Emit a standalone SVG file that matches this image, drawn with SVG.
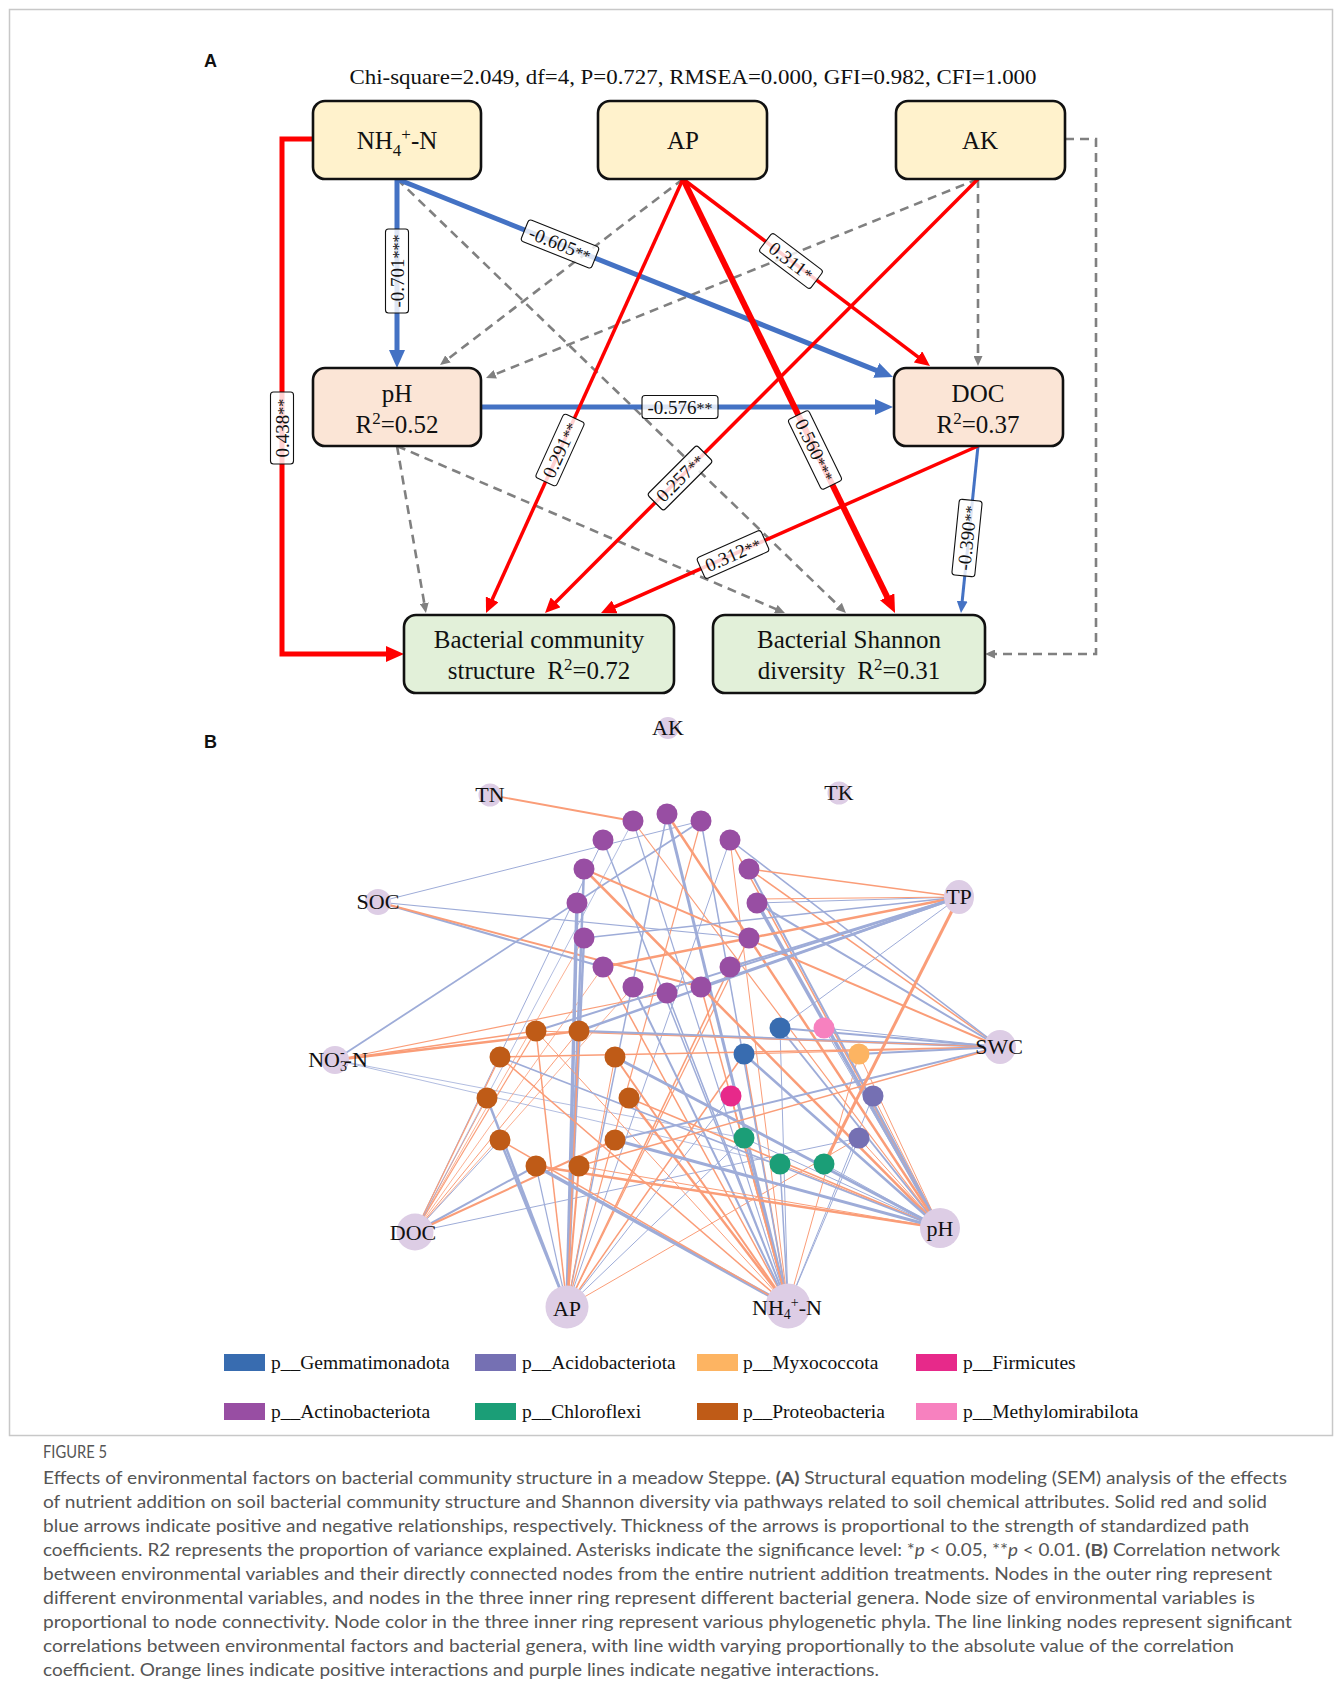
<svg xmlns="http://www.w3.org/2000/svg" width="1338" height="1699" viewBox="0 0 1338 1699">
<style>
.bx{stroke:#111;stroke-width:2.6}
.t1{fill:#FFF2CC}.t2{fill:#FBE5D6}.t3{fill:#E2F0D9}
.bt{font-family:"Liberation Serif","Times New Roman",serif;font-size:25px;fill:#111;text-anchor:middle}
.gd{stroke:#808080;stroke-width:2.6;stroke-dasharray:9,6;fill:none}
.rd{stroke:#FF0000;fill:none}
.bl{stroke:#4472C4;fill:none}
.lb rect{fill:#fff;fill-opacity:0.82;stroke:#111;stroke-width:1.1}
.lb text{font-family:"Liberation Serif","Times New Roman",serif;font-size:19px;fill:#111;text-anchor:middle}
.lb tspan{font-size:16px}
.eo{stroke:#FA9D78;fill:none}
.eb{stroke:#9EACD8;fill:none}
.env{fill:#DDCDE5}
.nl{font-family:"Liberation Serif","Times New Roman",serif;font-size:22px;fill:#111;text-anchor:middle}
.lg{font-family:"Liberation Serif","Times New Roman",serif;font-size:19.5px;fill:#111}
.cap{font-family:Lato,"Liberation Sans",sans-serif;font-size:17px;fill:#555}
.pl{font-family:"Liberation Sans",Arial,sans-serif;font-size:18px;font-weight:bold;fill:#111}
</style>
<defs>
<marker id="mB" markerUnits="userSpaceOnUse" markerWidth="18" markerHeight="16" refX="2" refY="8" orient="auto"><path d="M0,0 L18,8 L0,16 z" fill="#4472C4"/></marker>
<marker id="mR" markerUnits="userSpaceOnUse" markerWidth="18" markerHeight="16" refX="2" refY="8" orient="auto"><path d="M0,0 L18,8 L0,16 z" fill="#FF0000"/></marker>
<marker id="mRs" markerUnits="userSpaceOnUse" markerWidth="15" markerHeight="14" refX="2" refY="7" orient="auto"><path d="M0,0 L15,7 L0,14 z" fill="#FF0000"/></marker>
<marker id="mBs" markerUnits="userSpaceOnUse" markerWidth="12" markerHeight="11" refX="2" refY="5.5" orient="auto"><path d="M0,0 L12,5.5 L0,11 z" fill="#4472C4"/></marker>
<marker id="mG" markerUnits="userSpaceOnUse" markerWidth="10" markerHeight="9" refX="2" refY="4.5" orient="auto"><path d="M0,0 L10,4.5 L0,9 z" fill="#808080"/></marker>
</defs>
<rect width="1338" height="1699" fill="#fff"/>
<rect x="9.5" y="9.5" width="1323" height="1426" fill="none" stroke="#c8c8c8" stroke-width="1.5"/>

<!-- Panel A -->
<text class="pl" x="204" y="67">A</text>
<text x="693" y="84" font-family="Liberation Serif,Times New Roman,serif" font-size="21.5" fill="#111" text-anchor="middle" textLength="687" lengthAdjust="spacingAndGlyphs">Chi-square=2.049, df=4, P=0.727, RMSEA=0.000, GFI=0.982, CFI=1.000</text>

<g id="connectors">
<g id="sem-connectors">
<path class="gd" d="M397,179 L840.2,607.4" marker-end="url(#mG)"/>
<path class="gd" d="M683,179 L446.4,360.1" marker-end="url(#mG)"/>
<path class="gd" d="M978,179 L493.4,375" marker-end="url(#mG)"/>
<path class="gd" d="M978,179 L978,358" marker-end="url(#mG)"/>
<path class="gd" d="M1065,139 H1096 V654 H993" marker-end="url(#mG)"/>
<path class="gd" d="M397,446 L424.6,605.1" marker-end="url(#mG)"/>
<path class="gd" d="M397,446 L777.6,609.8" marker-end="url(#mG)"/>

<path class="bl" stroke-width="5" d="M397,179 L397,352" marker-end="url(#mB)"/>
<path class="bl" stroke-width="5" d="M397,179 L878.1,371.1" marker-end="url(#mB)"/>
<path class="bl" stroke-width="5" d="M481,407 L877,407" marker-end="url(#mB)"/>
<path class="bl" stroke-width="3" d="M978,446 L962,603" marker-end="url(#mBs)"/>
<path class="rd" stroke-width="5" d="M313,139 H282 V654 H388" marker-end="url(#mR)"/>
<path class="rd" stroke-width="3.5" d="M683,179 L919.6,358.1" marker-end="url(#mRs)"/>
<path class="rd" stroke-width="3.5" d="M683,179 L491.4,601.2" marker-end="url(#mRs)"/>
<path class="rd" stroke-width="6" d="M683,179 L888,598.6" marker-end="url(#mR)"/>
<path class="rd" stroke-width="3.5" d="M978,179 L554.2,603.8" marker-end="url(#mRs)"/>
<path class="rd" stroke-width="3.5" d="M978,446 L612.9,607.7" marker-end="url(#mRs)"/>

<g class="lb" transform="translate(397,271) rotate(-90)"><rect x="-42" y="-11.5" width="84" height="23" rx="3"/><text y="6.5">-0.701<tspan>***</tspan></text></g>
<g class="lb" transform="translate(560,244) rotate(21.8)"><rect x="-38" y="-11.5" width="76" height="23" rx="3"/><text y="6.5">-0.605<tspan>**</tspan></text></g>
<g class="lb" transform="translate(282,428) rotate(-90)"><rect x="-36" y="-11.5" width="72" height="23" rx="3"/><text y="6.5">0.438<tspan>**</tspan></text></g>
<g class="lb" transform="translate(791,261) rotate(37.1)"><rect x="-32" y="-11.5" width="64" height="23" rx="3"/><text y="6.5">0.311<tspan>*</tspan></text></g>
<g class="lb" transform="translate(680,407)"><rect x="-38" y="-11.5" width="76" height="23" rx="3"/><text y="6.5">-0.576<tspan>**</tspan></text></g>
<g class="lb" transform="translate(560,450) rotate(-65.6)"><rect x="-35" y="-11.5" width="70" height="23" rx="3"/><text y="6.5">0.291<tspan>**</tspan></text></g>
<g class="lb" transform="translate(815,450) rotate(64)"><rect x="-39" y="-11.5" width="78" height="23" rx="3"/><text y="6.5">0.560<tspan>***</tspan></text></g>
<g class="lb" transform="translate(680,478) rotate(-45)"><rect x="-35" y="-11.5" width="70" height="23" rx="3"/><text y="6.5">0.257<tspan>**</tspan></text></g>
<g class="lb" transform="translate(733,554.5) rotate(-23.9)"><rect x="-35" y="-11.5" width="70" height="23" rx="3"/><text y="6.5">0.312<tspan>**</tspan></text></g>
<g class="lb" transform="translate(967,538) rotate(-84.2)"><rect x="-38" y="-11.5" width="76" height="23" rx="3"/><text y="6.5">-0.390<tspan>**</tspan></text></g>
</g>

<g id="network-edges">
<line class="eo" x1="490" y1="795" x2="633" y2="821" stroke-width="1.8"/>
<line class="eb" x1="378" y1="902" x2="701" y2="821" stroke-width="1"/>
<line class="eb" x1="378" y1="902" x2="749" y2="938" stroke-width="1.2"/>
<line class="eb" x1="378" y1="902" x2="603" y2="967" stroke-width="2"/>
<line class="eo" x1="378" y1="902" x2="701" y2="987" stroke-width="2"/>
<line class="eb" x1="335" y1="1060" x2="701" y2="821" stroke-width="1.8"/>
<line class="eo" x1="335" y1="1060" x2="579" y2="1031" stroke-width="2.5"/>
<line class="eo" x1="335" y1="1060" x2="667" y2="993" stroke-width="1.2"/>
<line class="eb" x1="335" y1="1060" x2="744" y2="1138" stroke-width="0.8"/>
<line class="eb" x1="335" y1="1060" x2="780" y2="1164" stroke-width="0.8"/>
<line class="eo" x1="335" y1="1060" x2="536" y2="1031" stroke-width="1.5"/>
<line class="eb" x1="415" y1="1232" x2="603" y2="840" stroke-width="1"/>
<line class="eo" x1="415" y1="1232" x2="487" y2="1098" stroke-width="1"/>
<line class="eo" x1="415" y1="1232" x2="500" y2="1057" stroke-width="1.2"/>
<line class="eo" x1="415" y1="1232" x2="536" y2="1031" stroke-width="1.2"/>
<line class="eo" x1="415" y1="1232" x2="579" y2="1031" stroke-width="1"/>
<line class="eo" x1="415" y1="1232" x2="584" y2="938" stroke-width="0.8"/>
<line class="eo" x1="415" y1="1232" x2="603" y2="967" stroke-width="0.8"/>
<line class="eo" x1="415" y1="1232" x2="633" y2="987" stroke-width="0.8"/>
<line class="eb" x1="415" y1="1232" x2="536" y2="1166" stroke-width="2"/>
<line class="eo" x1="415" y1="1232" x2="615" y2="1140" stroke-width="2"/>
<line class="eb" x1="415" y1="1232" x2="859" y2="1138" stroke-width="1"/>
<line class="eb" x1="415" y1="1232" x2="500" y2="1140" stroke-width="1"/>
<line class="eb" x1="415" y1="1232" x2="633" y2="821" stroke-width="0.8"/>
<line class="eb" x1="567" y1="1307" x2="487" y2="1098" stroke-width="2.5"/>
<line class="eb" x1="567" y1="1307" x2="500" y2="1140" stroke-width="2.5"/>
<line class="eb" x1="567" y1="1307" x2="584" y2="869" stroke-width="2.5"/>
<line class="eb" x1="567" y1="1307" x2="577" y2="903" stroke-width="3.5"/>
<line class="eb" x1="567" y1="1307" x2="584" y2="938" stroke-width="2.5"/>
<line class="eo" x1="567" y1="1307" x2="579" y2="1031" stroke-width="1.5"/>
<line class="eb" x1="567" y1="1307" x2="536" y2="1166" stroke-width="1.2"/>
<line class="eo" x1="567" y1="1307" x2="579" y2="1166" stroke-width="2"/>
<line class="eo" x1="567" y1="1307" x2="730" y2="967" stroke-width="1.5"/>
<line class="eo" x1="567" y1="1307" x2="749" y2="938" stroke-width="1.2"/>
<line class="eo" x1="567" y1="1307" x2="744" y2="1054" stroke-width="1.5"/>
<line class="eb" x1="567" y1="1307" x2="731" y2="1096" stroke-width="1"/>
<line class="eo" x1="567" y1="1307" x2="859" y2="1138" stroke-width="1"/>
<line class="eb" x1="567" y1="1307" x2="744" y2="1138" stroke-width="1"/>
<line class="eo" x1="567" y1="1307" x2="701" y2="821" stroke-width="1.2"/>
<line class="eb" x1="567" y1="1307" x2="730" y2="840" stroke-width="1"/>
<line class="eo" x1="567" y1="1307" x2="536" y2="1031" stroke-width="1.5"/>
<line class="eb" x1="567" y1="1307" x2="667" y2="814" stroke-width="1.5"/>
<line class="eo" x1="567" y1="1307" x2="615" y2="1057" stroke-width="1"/>
<line class="eb" x1="788" y1="1306" x2="536" y2="1166" stroke-width="3.5"/>
<line class="eo" x1="788" y1="1306" x2="500" y2="1140" stroke-width="1.5"/>
<line class="eo" x1="788" y1="1306" x2="500" y2="1057" stroke-width="1.5"/>
<line class="eo" x1="788" y1="1306" x2="615" y2="1057" stroke-width="2"/>
<line class="eb" x1="788" y1="1306" x2="667" y2="814" stroke-width="3"/>
<line class="eb" x1="788" y1="1306" x2="603" y2="840" stroke-width="1.5"/>
<line class="eo" x1="788" y1="1306" x2="603" y2="967" stroke-width="1.5"/>
<line class="eb" x1="788" y1="1306" x2="633" y2="987" stroke-width="2"/>
<line class="eb" x1="788" y1="1306" x2="633" y2="821" stroke-width="1.2"/>
<line class="eo" x1="788" y1="1306" x2="629" y2="1098" stroke-width="2.5"/>
<line class="eb" x1="788" y1="1306" x2="780" y2="1164" stroke-width="1.5"/>
<line class="eb" x1="788" y1="1306" x2="744" y2="1138" stroke-width="1.5"/>
<line class="eo" x1="788" y1="1306" x2="731" y2="1096" stroke-width="1.5"/>
<line class="eo" x1="788" y1="1306" x2="744" y2="1054" stroke-width="1.5"/>
<line class="eb" x1="788" y1="1306" x2="873" y2="1096" stroke-width="1"/>
<line class="eb" x1="788" y1="1306" x2="859" y2="1138" stroke-width="1"/>
<line class="eo" x1="788" y1="1306" x2="859" y2="1054" stroke-width="1"/>
<line class="eb" x1="788" y1="1306" x2="667" y2="993" stroke-width="1.5"/>
<line class="eb" x1="788" y1="1306" x2="701" y2="821" stroke-width="1.5"/>
<line class="eb" x1="788" y1="1306" x2="780" y2="1028" stroke-width="1"/>
<line class="eo" x1="788" y1="1306" x2="701" y2="987" stroke-width="1.5"/>
<line class="eo" x1="788" y1="1306" x2="730" y2="840" stroke-width="1"/>
<line class="eo" x1="788" y1="1306" x2="536" y2="1031" stroke-width="1"/>
<line class="eo" x1="940" y1="1228" x2="536" y2="1166" stroke-width="2.5"/>
<line class="eb" x1="940" y1="1228" x2="615" y2="1057" stroke-width="3"/>
<line class="eb" x1="940" y1="1228" x2="615" y2="1140" stroke-width="3"/>
<line class="eb" x1="940" y1="1228" x2="757" y2="903" stroke-width="3.5"/>
<line class="eo" x1="940" y1="1228" x2="667" y2="814" stroke-width="2.5"/>
<line class="eo" x1="940" y1="1228" x2="730" y2="840" stroke-width="1.5"/>
<line class="eo" x1="940" y1="1228" x2="584" y2="869" stroke-width="2.5"/>
<line class="eo" x1="940" y1="1228" x2="873" y2="1096" stroke-width="1"/>
<line class="eb" x1="940" y1="1228" x2="824" y2="1028" stroke-width="1"/>
<line class="eo" x1="940" y1="1228" x2="859" y2="1054" stroke-width="1"/>
<line class="eo" x1="940" y1="1228" x2="859" y2="1138" stroke-width="1"/>
<line class="eb" x1="940" y1="1228" x2="824" y2="1164" stroke-width="1"/>
<line class="eo" x1="940" y1="1228" x2="780" y2="1164" stroke-width="1"/>
<line class="eb" x1="940" y1="1228" x2="744" y2="1054" stroke-width="2.5"/>
<line class="eb" x1="940" y1="1228" x2="780" y2="1028" stroke-width="2"/>
<line class="eo" x1="940" y1="1228" x2="633" y2="821" stroke-width="1.2"/>
<line class="eo" x1="940" y1="1228" x2="629" y2="1098" stroke-width="1.5"/>
<line class="eb" x1="940" y1="1228" x2="500" y2="1057" stroke-width="1.5"/>
<line class="eb" x1="940" y1="1228" x2="744" y2="1138" stroke-width="1"/>
<line class="eb" x1="940" y1="1228" x2="749" y2="869" stroke-width="2"/>
<line class="eo" x1="940" y1="1228" x2="579" y2="1166" stroke-width="1"/>
<line class="eo" x1="1000" y1="1047" x2="749" y2="869" stroke-width="1.5"/>
<line class="eb" x1="1000" y1="1047" x2="757" y2="903" stroke-width="2"/>
<line class="eo" x1="1000" y1="1047" x2="584" y2="869" stroke-width="2"/>
<line class="eb" x1="1000" y1="1047" x2="579" y2="1031" stroke-width="2.5"/>
<line class="eo" x1="1000" y1="1047" x2="500" y2="1057" stroke-width="1.5"/>
<line class="eb" x1="1000" y1="1047" x2="780" y2="1028" stroke-width="2"/>
<line class="eo" x1="1000" y1="1047" x2="744" y2="1054" stroke-width="1.2"/>
<line class="eb" x1="1000" y1="1047" x2="859" y2="1054" stroke-width="2"/>
<line class="eb" x1="1000" y1="1047" x2="615" y2="1140" stroke-width="2"/>
<line class="eo" x1="1000" y1="1047" x2="579" y2="1166" stroke-width="1.5"/>
<line class="eb" x1="1000" y1="1047" x2="730" y2="840" stroke-width="1.5"/>
<line class="eb" x1="1000" y1="1047" x2="824" y2="1028" stroke-width="1"/>
<line class="eo" x1="1000" y1="1047" x2="536" y2="1031" stroke-width="1"/>
<line class="eb" x1="959" y1="897" x2="757" y2="903" stroke-width="1"/>
<line class="eo" x1="959" y1="897" x2="757" y2="899" stroke-width="1"/>
<line class="eb" x1="959" y1="897" x2="584" y2="938" stroke-width="1.5"/>
<line class="eo" x1="959" y1="897" x2="603" y2="967" stroke-width="2.5"/>
<line class="eb" x1="959" y1="897" x2="701" y2="987" stroke-width="2.5"/>
<line class="eb" x1="959" y1="897" x2="536" y2="1031" stroke-width="2"/>
<line class="eb" x1="959" y1="897" x2="579" y2="1031" stroke-width="2.5"/>
<line class="eb" x1="959" y1="897" x2="780" y2="1028" stroke-width="1"/>
<line class="eo" x1="959" y1="897" x2="824" y2="1164" stroke-width="3"/>
<line class="eo" x1="959" y1="897" x2="749" y2="869" stroke-width="1.5"/>
<line class="eb" x1="959" y1="897" x2="730" y2="967" stroke-width="2"/>
</g>
</g>

<g id="node-nh4"><rect class="bx t1" x="313" y="101" width="168" height="78" rx="12"/><text class="bt" x="397" y="149">NH<tspan font-size="17" dy="7">4</tspan><tspan font-size="17" dy="-16">+</tspan><tspan dy="9">-N</tspan></text></g>
<g id="node-ap"><rect class="bx t1" x="598" y="101" width="169" height="78" rx="12"/><text class="bt" x="683" y="149">AP</text></g>
<g id="node-ak"><rect class="bx t1" x="896" y="101" width="169" height="78" rx="12"/><text class="bt" x="980" y="149">AK</text></g>
<g id="node-ph"><rect class="bx t2" x="313" y="368" width="168" height="78" rx="12"/><text class="bt" x="397" y="402">pH</text><text class="bt" x="397" y="433">R<tspan font-size="17" dy="-9">2</tspan><tspan dy="9">=0.52</tspan></text></g>
<g id="node-doc"><rect class="bx t2" x="894" y="368" width="169" height="78" rx="12"/><text class="bt" x="978" y="402">DOC</text><text class="bt" x="978" y="433">R<tspan font-size="17" dy="-9">2</tspan><tspan dy="9">=0.37</tspan></text></g>
<g id="node-bcs"><rect class="bx t3" x="404" y="615" width="270" height="78" rx="12"/><text class="bt" x="539" y="648">Bacterial community</text><text class="bt" x="539" y="679">structure<tspan dx="12">R</tspan><tspan font-size="17" dy="-9">2</tspan><tspan dy="9">=0.72</tspan></text></g>
<g id="node-bsd"><rect class="bx t3" x="713" y="615" width="272" height="78" rx="12"/><text class="bt" x="849" y="648">Bacterial Shannon</text><text class="bt" x="849" y="679">diversity<tspan dx="12">R</tspan><tspan font-size="17" dy="-9">2</tspan><tspan dy="9">=0.31</tspan></text></g>

<!-- Panel B -->
<text class="pl" x="204" y="748">B</text>

<g id="genera">
<g fill="#984EA3">
<circle id="g-p1" cx="633" cy="821" r="10.5"/><circle id="g-p2" cx="667" cy="814" r="10.5"/><circle id="g-p3" cx="701" cy="821" r="10.5"/>
<circle id="g-p4" cx="603" cy="840" r="10.5"/><circle id="g-p5" cx="730" cy="840" r="10.5"/><circle id="g-p6" cx="584" cy="869" r="10.5"/>
<circle id="g-p7" cx="749" cy="869" r="10.5"/><circle id="g-p8" cx="577" cy="903" r="10.5"/><circle id="g-p9" cx="757" cy="903" r="10.5"/>
<circle id="g-p10" cx="584" cy="938" r="10.5"/><circle id="g-p11" cx="749" cy="938" r="10.5"/><circle id="g-p12" cx="603" cy="967" r="10.5"/>
<circle id="g-p13" cx="730" cy="967" r="10.5"/><circle id="g-p14" cx="633" cy="987" r="10.5"/><circle id="g-p15" cx="667" cy="993" r="10.5"/>
<circle id="g-p16" cx="701" cy="987" r="10.5"/>
</g>
<g fill="#BF5B17">
<circle id="g-r1" cx="536" cy="1031" r="10.5"/><circle id="g-r2" cx="579" cy="1031" r="10.5"/><circle id="g-r3" cx="500" cy="1057" r="10.5"/>
<circle id="g-r4" cx="615" cy="1057" r="10.5"/><circle id="g-r5" cx="487" cy="1098" r="10.5"/><circle id="g-r6" cx="629" cy="1098" r="10.5"/>
<circle id="g-r7" cx="500" cy="1140" r="10.5"/><circle id="g-r8" cx="615" cy="1140" r="10.5"/><circle id="g-r9" cx="536" cy="1166" r="10.5"/>
<circle id="g-r10" cx="579" cy="1166" r="10.5"/>
</g>
<circle id="g-g1" cx="780" cy="1028" r="10.5" fill="#386CB0"/>
<circle id="g-g2" cx="744" cy="1054" r="10.5" fill="#386CB0"/>
<circle id="g-m" cx="824" cy="1028" r="10.5" fill="#F781BF"/>
<circle id="g-x" cx="859" cy="1054" r="10.5" fill="#FDB462"/>
<circle id="g-f" cx="731" cy="1096" r="10.5" fill="#E7298A"/>
<circle id="g-a1" cx="873" cy="1096" r="10.5" fill="#7570B3"/>
<circle id="g-a2" cx="859" cy="1138" r="10.5" fill="#7570B3"/>
<circle id="g-c1" cx="744" cy="1138" r="10.5" fill="#1B9E77"/>
<circle id="g-c2" cx="780" cy="1164" r="10.5" fill="#1B9E77"/>
<circle id="g-c3" cx="824" cy="1164" r="10.5" fill="#1B9E77"/>
</g>

<g id="env-ak"><circle class="env" cx="668" cy="728" r="11"/><text class="nl" x="668" y="735">AK</text></g>
<g id="env-tn"><circle class="env" cx="490" cy="795" r="11.5"/><text class="nl" x="490" y="802">TN</text></g>
<g id="env-tk"><circle class="env" cx="839" cy="793" r="11.5"/><text class="nl" x="839" y="800">TK</text></g>
<g id="env-soc"><circle class="env" cx="378" cy="902" r="13"/><text class="nl" x="378" y="909">SOC</text></g>
<g id="env-tp"><ellipse class="env" cx="959" cy="897" rx="15" ry="17"/><text class="nl" x="959" y="904">TP</text></g>
<g id="env-no3"><circle class="env" cx="335" cy="1060" r="14"/><text class="nl" x="338" y="1067">NO<tspan font-size="14" dy="4">3</tspan><tspan font-size="14" dx="-7" dy="-14">-</tspan><tspan dy="10">-N</tspan></text></g>
<g id="env-swc"><ellipse class="env" cx="1000" cy="1047" rx="16" ry="17"/><text class="nl" x="999" y="1054">SWC</text></g>
<g id="env-doc"><circle class="env" cx="415" cy="1232" r="18.5"/><text class="nl" x="413" y="1240">DOC</text></g>
<g id="env-ph"><circle class="env" cx="940" cy="1228" r="20"/><text class="nl" x="940" y="1236">pH</text></g>
<g id="env-ap"><circle class="env" cx="567" cy="1307" r="21.5"/><text class="nl" x="567" y="1316">AP</text></g>
<g id="env-nh4"><circle class="env" cx="788" cy="1306" r="22.5"/><text class="nl" x="787" y="1315">NH<tspan font-size="14" dy="4">4</tspan><tspan font-size="14" dy="-12">+</tspan><tspan dy="8">-N</tspan></text></g>

<g id="legend">
<rect x="224" y="1354" width="41" height="17" fill="#386CB0"/><text class="lg" x="271" y="1369">p__Gemmatimonadota</text>
<rect x="475" y="1354" width="41" height="17" fill="#7570B3"/><text class="lg" x="522" y="1369">p__Acidobacteriota</text>
<rect x="697" y="1354" width="41" height="17" fill="#FDB462"/><text class="lg" x="743" y="1369">p__Myxococcota</text>
<rect x="916" y="1354" width="41" height="17" fill="#E7298A"/><text class="lg" x="963" y="1369">p__Firmicutes</text>
<rect x="224" y="1403" width="41" height="17" fill="#984EA3"/><text class="lg" x="271" y="1418">p__Actinobacteriota</text>
<rect x="475" y="1403" width="41" height="17" fill="#1B9E77"/><text class="lg" x="522" y="1418">p__Chloroflexi</text>
<rect x="697" y="1403" width="41" height="17" fill="#BF5B17"/><text class="lg" x="743" y="1418">p__Proteobacteria</text>
<rect x="916" y="1403" width="41" height="17" fill="#F781BF"/><text class="lg" x="963" y="1418">p__Methylomirabilota</text>
</g>

<g id="caption">
<text class="cap" x="43" y="1458" font-size="13.5" fill="#666" textLength="64" lengthAdjust="spacingAndGlyphs">FIGURE 5</text>
<text class="cap" x="43" y="1484" textLength="1244" lengthAdjust="spacingAndGlyphs">Effects of environmental factors on bacterial community structure in a meadow Steppe. <tspan font-weight="bold">(A)</tspan> Structural equation modeling (SEM) analysis of the effects</text>
<text class="cap" x="43" y="1508" textLength="1224" lengthAdjust="spacingAndGlyphs">of nutrient addition on soil bacterial community structure and Shannon diversity via pathways related to soil chemical attributes. Solid red and solid</text>
<text class="cap" x="43" y="1532" textLength="1206" lengthAdjust="spacingAndGlyphs">blue arrows indicate positive and negative relationships, respectively. Thickness of the arrows is proportional to the strength of standardized path</text>
<text class="cap" x="43" y="1556" textLength="1237" lengthAdjust="spacingAndGlyphs">coefficients. R2 represents the proportion of variance explained. Asterisks indicate the significance level: *<tspan font-style="italic">p</tspan> &lt; 0.05, **<tspan font-style="italic">p</tspan> &lt; 0.01. <tspan font-weight="bold">(B)</tspan> Correlation network</text>
<text class="cap" x="43" y="1580" textLength="1229" lengthAdjust="spacingAndGlyphs">between environmental variables and their directly connected nodes from the entire nutrient addition treatments. Nodes in the outer ring represent</text>
<text class="cap" x="43" y="1604" textLength="1212" lengthAdjust="spacingAndGlyphs">different environmental variables, and nodes in the three inner ring represent different bacterial genera. Node size of environmental variables is</text>
<text class="cap" x="43" y="1628" textLength="1249" lengthAdjust="spacingAndGlyphs">proportional to node connectivity. Node color in the three inner ring represent various phylogenetic phyla. The line linking nodes represent significant</text>
<text class="cap" x="43" y="1652" textLength="1191" lengthAdjust="spacingAndGlyphs">correlations between environmental factors and bacterial genera, with line width varying proportionally to the absolute value of the correlation</text>
<text class="cap" x="43" y="1676" textLength="836" lengthAdjust="spacingAndGlyphs">coefficient. Orange lines indicate positive interactions and purple lines indicate negative interactions.</text>
</g>
</svg>
